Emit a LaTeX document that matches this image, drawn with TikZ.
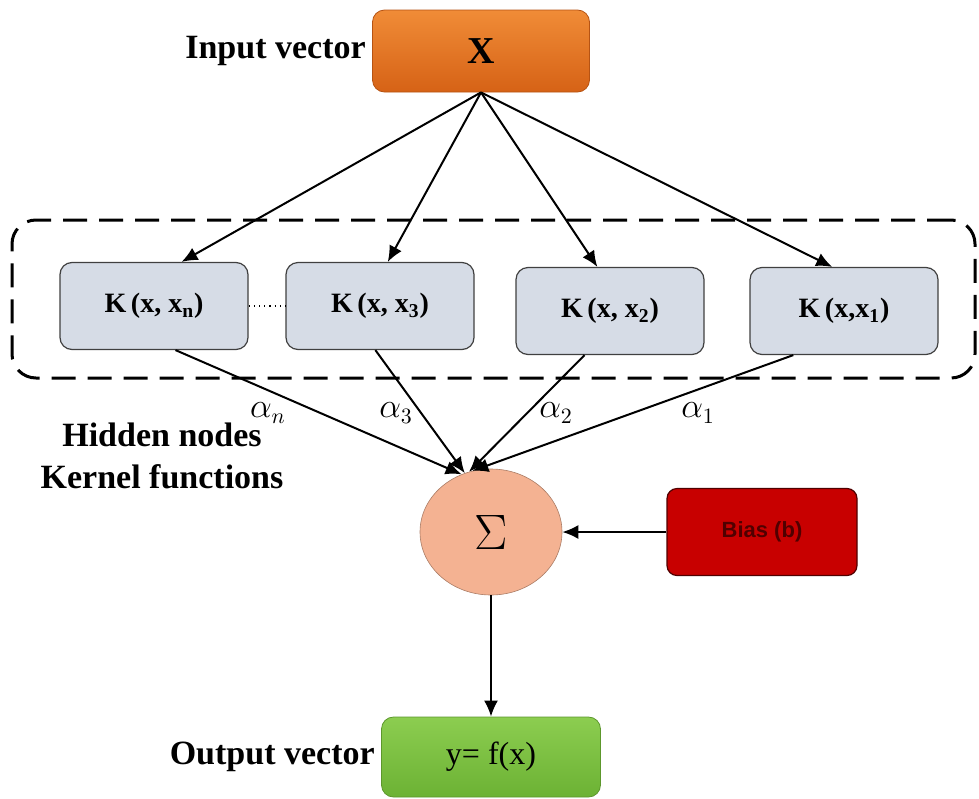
\documentclass[tikz,border=0pt]{standalone}
\usepackage{fontspec}
\setmainfont{Liberation Serif}
\newfontfamily\biasfont{Liberation Sans}
\usetikzlibrary{arrows.meta,positioning,calc,shapes.geometric}
\definecolor{InTop}{RGB}{240,140,55}
\definecolor{InBot}{RGB}{214,98,22}
\definecolor{KerFill}{RGB}{214,220,230}
\definecolor{SumFill}{RGB}{244,178,146}
\definecolor{BiasRed}{RGB}{200,0,0}
\definecolor{BiasInk}{RGB}{80,0,0}
\definecolor{OutTop}{RGB}{140,205,80}
\definecolor{OutBot}{RGB}{108,178,52}
\tikzset{
 lbl/.style={font=\fontsize{17}{21}\selectfont\bfseries,inner sep=0pt,align=center},
 inbox/.style={rounded corners=6pt,top color=InTop,bottom color=InBot,draw=InBot!85!black,line width=0.4pt,minimum width=108.5pt,minimum height=41pt,font=\fontsize{19}{22}\selectfont\bfseries},
 kbox/.style={draw=black!75,fill=KerFill,rounded corners=6pt,line width=0.6pt,minimum width=94pt,minimum height=43.5pt,font=\fontsize{14}{16}\selectfont\bfseries},
 hidden/.style={draw=black,line width=1.5pt,dash pattern=on 12pt off 6pt,rounded corners=12pt,minimum width=481.5pt,minimum height=79pt},
 sumnode/.style={ellipse,fill=SumFill,draw=SumFill!70!black,line width=0.3pt,minimum width=71pt,minimum height=63pt,inner sep=0pt,font=\fontsize{24}{28}\selectfont},
 biasbox/.style={rounded corners=5pt,fill=BiasRed,draw=BiasInk,line width=0.6pt,minimum width=95pt,minimum height=43.5pt,text=BiasInk,font=\biasfont\fontsize{11}{13}\selectfont\bfseries},
 outbox/.style={inbox,top color=OutTop,bottom color=OutBot,draw=OutBot!85!black,minimum width=109.5pt,minimum height=40pt,font=\fontsize{16}{19}\selectfont},
 wgt/.style={font=\fontsize{16}{19}\selectfont,inner sep=0pt},
 arr/.style={-{Latex[length=8pt,width=7pt]},line width=1pt,draw=black}
}
\begin{document}
\begin{tikzpicture}[x=0.5pt,y=-0.5pt,node distance=3pt]
\useasboundingbox (0,0) rectangle (979,798);
\node[hidden] (hid) at (493.5,299) {};
\node[inbox] (x) at (481,51) {X};
\node[lbl,left=of x] (inlbl) {Input vector};
\node[kbox] (kn) at (154,306) {K\,(x, x\textsubscript{n})};
\node[kbox] (k3) at (380,306) {K\,(x, x\textsubscript{3})};
\node[kbox] (k2) at (610,311) {K\,(x, x\textsubscript{2})};
\node[kbox] (k1) at (844,311) {K\,(x,x\textsubscript{1})};
\node[wgt] (an) at (268,413) {$\alpha_n$};
\node[wgt] (a3) at (396,413) {$\alpha_3$};
\node[wgt] (a2) at (556,413) {$\alpha_2$};
\node[wgt] (a1) at (698,413) {$\alpha_1$};
\node[lbl] (hidlbl) at (162,456) {Hidden nodes\\Kernel functions};
\node[sumnode] (sum) at (491,532) {$\Sigma$};
\node[biasbox] (bias) at (762,532) {Bias (b)};
\node[outbox] (out) at (491,757) {y= f(x)};
\node[lbl,left=of out] (outlbl) {Output vector};
\draw[dotted,line width=0.6pt] (kn.east)--(k3.west);
\foreach \a/\b in {x.south/kn.58,x.south/k3.80,x.south/k2.106,x.south/k1.105,kn.296/sum.117,k3.264/sum.114,k2.240/sum.110,k1.221/sum.107,bias.west/sum.east,sum.south/out.north} \draw[arr] (\a)--(\b);
\end{tikzpicture}
\end{document}
